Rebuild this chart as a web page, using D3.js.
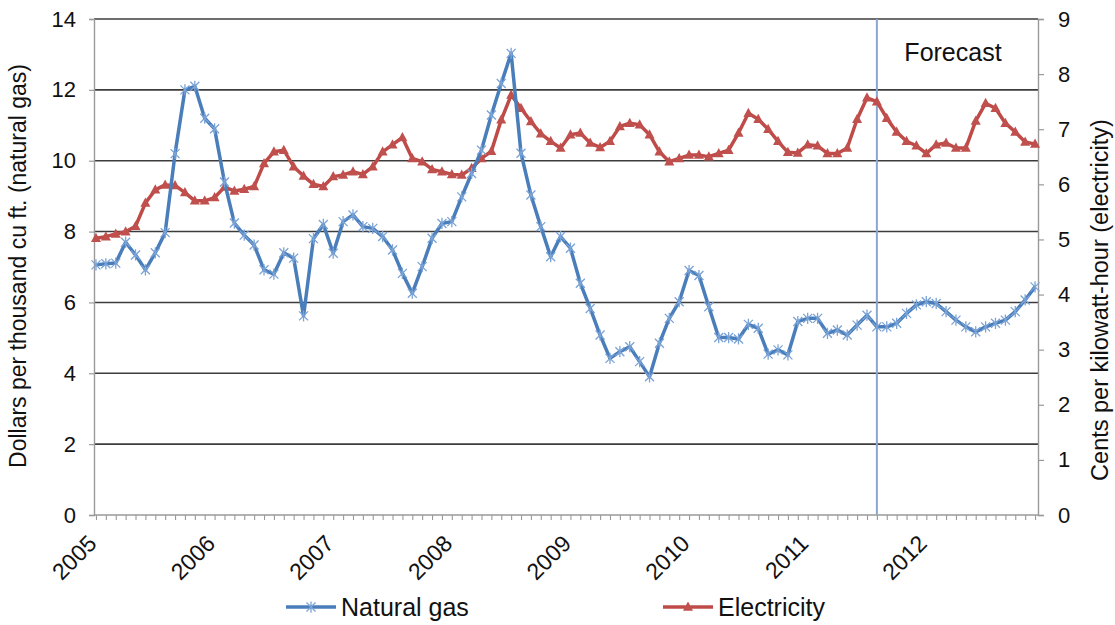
<!DOCTYPE html>
<html>
<head>
<meta charset="utf-8">
<script src="https://cdn.jsdelivr.net/npm/d3@7"></script>
<style>
  body { margin: 0; background: #ffffff; }
  svg text { font-family: "Liberation Sans", Arial, sans-serif; fill: #111; }
</style>
</head>
<body>
<svg id="chart" width="1115" height="625"></svg>
<script>
// Monthly prices, January 2005 through December 2012
const years = ["2005", "2006", "2007", "2008", "2009", "2010", "2011", "2012"];
const firstMonth = "2005-01";
const forecastStart = "2011-08";
const seriesNames = ["Natural gas", "Electricity"];

// Dollars per thousand cubic feet
const gasPrice = [
  7.06, 7.09, 7.11, 7.70, 7.34, 6.92, 7.40, 7.97, 10.2, 12.0, 12.1, 11.2,
  10.9, 9.4, 8.24, 7.90, 7.62, 6.92, 6.80, 7.40, 7.25, 5.62, 7.80, 8.20,
  7.39, 8.28, 8.47, 8.14, 8.09, 7.86, 7.48, 6.82, 6.26, 7.01, 7.81, 8.23,
  8.28, 8.98, 9.64, 10.3, 11.29, 12.18, 13.03, 10.21, 9.03, 8.14, 7.29, 7.86,
  7.53, 6.54, 5.83, 5.08, 4.42, 4.61, 4.75, 4.33, 3.90, 4.85, 5.55, 6.02,
  6.90, 6.76, 5.88, 5.01, 5.01, 4.97, 5.38, 5.27, 4.54, 4.66, 4.52, 5.46,
  5.55, 5.55, 5.13, 5.22, 5.08, 5.36, 5.64, 5.31, 5.31, 5.41, 5.69, 5.93,
  6.02, 5.97, 5.74, 5.50, 5.31, 5.17, 5.31, 5.41, 5.50, 5.74, 6.07, 6.44
];

// Cents per kilowatt-hour
const electricityPrice = [
  5.02, 5.05, 5.10, 5.14, 5.24, 5.66, 5.90, 5.99, 5.98, 5.85, 5.70, 5.70,
  5.76, 5.95, 5.88, 5.91, 5.96, 6.38, 6.59, 6.62, 6.32, 6.15, 6.00, 5.96,
  6.14, 6.17, 6.23, 6.18, 6.32, 6.59, 6.72, 6.85, 6.47, 6.41, 6.27, 6.23,
  6.18, 6.17, 6.29, 6.47, 6.60, 7.17, 7.62, 7.38, 7.14, 6.92, 6.78, 6.66,
  6.90, 6.93, 6.75, 6.67, 6.78, 7.05, 7.11, 7.08, 6.90, 6.59, 6.41, 6.47,
  6.53, 6.53, 6.50, 6.56, 6.62, 6.93, 7.29, 7.18, 7.00, 6.78, 6.58, 6.57,
  6.72, 6.70, 6.56, 6.56, 6.66, 7.18, 7.57, 7.50, 7.20, 6.95, 6.78, 6.70,
  6.56, 6.72, 6.75, 6.66, 6.66, 7.15, 7.47, 7.38, 7.11, 6.95, 6.77, 6.73
];

const gasTicks = [0, 2, 4, 6, 8, 10, 12, 14];
const electricityTicks = [0, 1, 2, 3, 4, 5, 6, 7, 8, 9];

const gasColor = "#4a7ebb", gasMarkColor = "#7aa3d6";
const elecColor = "#be4b48", elecMarkColor = "#c0504d";

const svg = d3.select("#chart");
const plot = { left: 94, right: 1038, top: 19, bottom: 515 };

const parseMonth = d3.timeParse("%Y-%m");
const start = parseMonth(firstMonth);
const months = d3.timeMonth.range(start, d3.timeMonth.offset(start, gasPrice.length));
const monthIndex = s => d3.timeMonth.count(start, parseMonth(s));

const x = d3.scaleLinear().domain([-0.2, months.length - 0.7]).range([plot.left, plot.right]);
const yGas = d3.scaleLinear().domain([0, 14]).range([plot.bottom, plot.top]);
const yElec = d3.scaleLinear().domain([0, 9]).range([plot.bottom, plot.top]);

// Horizontal gridlines on the left-axis values
svg.append("g").selectAll("line")
  .data(gasTicks.filter(d => d > 0))
  .join("line")
  .attr("x1", plot.left).attr("x2", plot.right)
  .attr("y1", d => yGas(d)).attr("y2", d => yGas(d))
  .attr("stroke", "#3c3c3c").attr("stroke-width", 1.6);

// Left axis
const leftAxis = svg.append("g")
  .attr("transform", `translate(${plot.left},0)`)
  .call(d3.axisLeft(yGas).tickValues(gasTicks).tickSize(5).tickPadding(13));
// Right axis
const rightAxis = svg.append("g")
  .attr("transform", `translate(${plot.right},0)`)
  .call(d3.axisRight(yElec).tickValues(electricityTicks).tickSize(6).tickPadding(14));
[leftAxis, rightAxis].forEach(g => {
  g.select(".domain").attr("stroke", "#9a9a9a").attr("stroke-width", 1.4);
  g.selectAll(".tick line").attr("stroke", "#9a9a9a").attr("stroke-width", 1.2);
  g.selectAll(".tick text").style("font-size", "22px").attr("fill", "#111");
});

// Bottom axis: one tick per month
const bottomAxis = svg.append("g")
  .attr("transform", `translate(0,${plot.bottom})`)
  .call(d3.axisBottom(x).tickValues(d3.range(months.length)).tickSize(5).tickFormat(""));
bottomAxis.select(".domain").attr("stroke", "#9a9a9a").attr("stroke-width", 1.4)
  .attr("d", `M${plot.left},0H${plot.right}`);
bottomAxis.selectAll(".tick line").attr("stroke", "#9a9a9a").attr("stroke-width", 1.1);

// Year labels, slanted
svg.append("g").selectAll("text")
  .data(years)
  .join("text")
  .attr("transform", d => `translate(${x(monthIndex(d + "-01")) + 2},${plot.bottom + 30}) rotate(-45)`)
  .attr("text-anchor", "end")
  .style("font-size", "23px")
  .text(d => d);

// Axis titles
svg.append("text")
  .attr("transform", `translate(26,266) rotate(-90)`)
  .attr("text-anchor", "middle")
  .style("font-size", "23px")
  .text("Dollars per thousand cu ft. (natural gas)");
svg.append("text")
  .attr("transform", `translate(1108,300) rotate(-90)`)
  .attr("text-anchor", "middle")
  .style("font-size", "23.5px")
  .text("Cents per kilowatt-hour (electricity)");

// Forecast divider
const fx = x(monthIndex(forecastStart));
svg.append("line")
  .attr("x1", fx).attr("x2", fx)
  .attr("y1", plot.top).attr("y2", plot.bottom)
  .attr("stroke", "#8aa7cf").attr("stroke-width", 2);
svg.append("text")
  .attr("x", 953).attr("y", 61)
  .attr("text-anchor", "middle")
  .style("font-size", "25px")
  .text("Forecast");

// Marker shapes
const starPath = s => `M${-s},${-s}L${s},${s}M${-s},${s}L${s},${-s}M0,${-s * 1.25}L0,${s * 1.25}`;
const triPath = s => `M0,${-s * 1.1}L${s},${s * 0.75}L${-s},${s * 0.75}Z`;

// Electricity series (right axis)
svg.append("path")
  .datum(electricityPrice)
  .attr("fill", "none").attr("stroke", elecColor).attr("stroke-width", 3.5)
  .attr("stroke-linejoin", "round")
  .attr("d", d3.line().x((d, i) => x(i)).y(d => yElec(d)));
svg.append("g").selectAll("path")
  .data(electricityPrice)
  .join("path")
  .attr("transform", (d, i) => `translate(${x(i)},${yElec(d)})`)
  .attr("d", triPath(5))
  .attr("fill", elecMarkColor);

// Natural gas series (left axis)
svg.append("path")
  .datum(gasPrice)
  .attr("fill", "none").attr("stroke", gasColor).attr("stroke-width", 3.5)
  .attr("stroke-linejoin", "round")
  .attr("d", d3.line().x((d, i) => x(i)).y(d => yGas(d)));
svg.append("g").selectAll("path")
  .data(gasPrice)
  .join("path")
  .attr("transform", (d, i) => `translate(${x(i)},${yGas(d)})`)
  .attr("d", starPath(4.5))
  .attr("fill", "none").attr("stroke", gasMarkColor).attr("stroke-width", 1.3);

// Legend
const legend = [
  { name: seriesNames[0], color: gasColor, x0: 286, mark: g => g.attr("d", starPath(4.5)).attr("fill", "none").attr("stroke", gasMarkColor).attr("stroke-width", 1.3) },
  { name: seriesNames[1], color: elecColor, x0: 663, mark: g => g.attr("d", triPath(5)).attr("fill", elecMarkColor) }
];
const ly = 607;
legend.forEach(item => {
  const g = svg.append("g");
  g.append("line")
    .attr("x1", item.x0).attr("x2", item.x0 + 50)
    .attr("y1", ly).attr("y2", ly)
    .attr("stroke", item.color).attr("stroke-width", 3.5);
  g.append("path").attr("transform", `translate(${item.x0 + 25},${ly})`).call(item.mark);
  g.append("text")
    .attr("x", item.x0 + 55).attr("y", ly + 9)
    .style("font-size", "25px")
    .text(item.name);
});
</script>
</body>
</html>
